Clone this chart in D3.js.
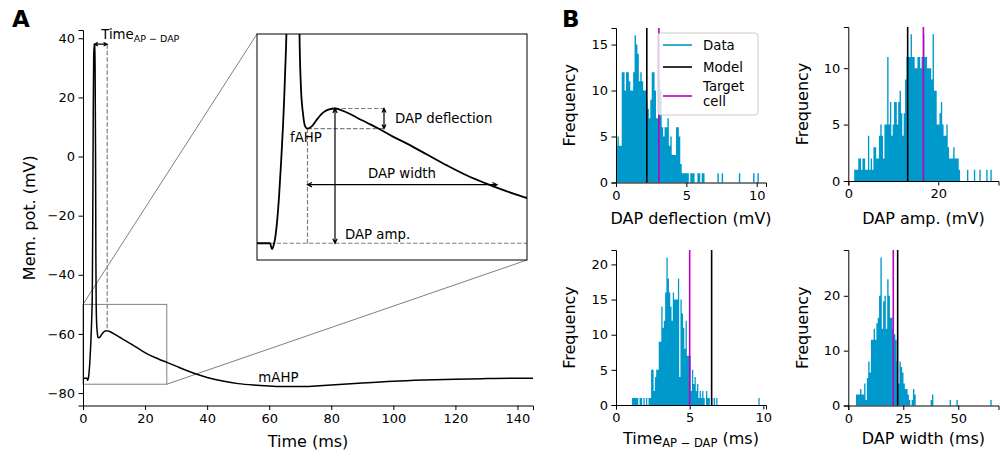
<!DOCTYPE html>
<html><head><meta charset="utf-8">
<script src="https://cdn.jsdelivr.net/npm/d3@7"></script>
<style>
body{margin:0;background:#fff;}
svg text{font-family:"DejaVu Sans",sans-serif;fill:#000;}
</style></head><body>
<svg id="c" width="1001" height="454"></svg>
<script>
// ---------- Panel A data: membrane potential trace ----------
const traceTime = [0,1.0,1.3,1.5,1.65,1.8,2.0,2.2,2.4,2.6,2.8,3.0,3.15,3.3,3.45,3.6,3.75,3.9,4.05,4.15,4.25,4.4,4.6,4.8,5.05,5.5,6.0,6.6,7.2,7.8,8.4,9.2,10,11,12,13.5,15,17,19,21,23,25,27,30,33,36,40,45,50,55,60,65,70,75,80,90,100,110,120,130,140,145];
const traceVolt = [-75.0,-75.0,-75.0,-75.7,-75.3,-74.5,-72.5,-69.5,-65.5,-61,-55,-46,-20,15,34,37.8,37.5,30,0,-35,-50,-56.5,-59.5,-61.0,-61.3,-61.0,-60.2,-59.4,-59.0,-58.9,-59.1,-59.5,-60.0,-60.6,-61.2,-62.2,-63.1,-64.4,-65.7,-66.9,-67.9,-68.8,-69.6,-70.9,-72.2,-73.4,-74.7,-75.9,-76.8,-77.3,-77.6,-77.8,-77.8,-77.6,-77.3,-76.6,-76.0,-75.6,-75.3,-75.1,-75.0,-75.0];
const timeTicks = [0,20,40,60,80,100,120,140];
const voltTicks = [-80,-60,-40,-20,0,20,40];
// characteristic points (ms, mV)
const apPeak = [3.6, 38.0];
const fAHP = [5.05, -61.3];
const dapPeak = [7.8, -58.9];
const dapDeflEnd = 12.7;
const dapWidthEnd = 24.0;
const dapWidthLevel = -68.0;
const restVolt = -75.0;
const zoomWindow = [0, 27, -77, -50];

// ---------- Panel B data: histograms (100 bins each) ----------
const deflRange = [0.0, 10.15];
const deflCounts = [4,5,4,4,12,12,10,12,12,11, 10,10,12,16,15,14,11,12,11,10, 10,9,8,7,9,12,12,10,7,7, 11,10,6,5,6,6,7,4,5,3, 3,3,6,6,5,2,1,1,1,1, 1,0,1,1,1,0,0,1,1,0, 1,1,0,0,0,0,0,0,0,0, 0,1,0,0,1,0,0,0,0,0, 0,0,0,0,0,0,1,0,0,0, 0,0,0,0,0,0,1,0,0,1];
const ampRange = [1.3, 31.9];
const ampCounts = [1,1,1,2,2,1,2,2,1,1, 4,1,2,1,3,3,2,2,4,5, 4,2,5,5,11,5,7,4,5,7, 7,5,7,8,6,4,6,9,11,11, 11,13,11,11,10,10,11,11,10,11, 13,11,11,10,10,10,9,13,8,8, 5,5,6,7,5,4,4,5,3,2, 2,2,3,2,2,2,1,0,0,0, 0,0,1,0,0,0,0,1,0,0, 0,1,0,0,0,0,1,0,0,1];
const tadRange = [1.08, 9.75];
const tadCounts = [1,1,1,1,1,0,1,1,0,1, 0,1,0,1,1,5,5,2,4,5, 5,9,9,14,11,12,16,21,18,16, 14,12,16,15,15,15,18,4,15,13, 11,8,12,7,7,7,2,5,3,4, 2,3,1,2,1,2,1,0,2,1, 1,0,1,0,1,0,1,0,0,0, 0,0,0,0,0,0,0,0,0,0, 0,0,0,0,0,0,0,0,0,0, 0,0,0,0,0,0,0,0,0,1];
const widthRange = [3.5, 65.2];
const widthCounts = [2,2,2,3,2,2,4,1,5,8, 6,12,12,14,12,15,16,20,27,14, 19,20,14,23,20,16,16,14,13,12, 8,4,8,7,6,4,3,3,2,1, 0,1,3,2,0,0,0,0,0,0, 0,0,0,0,0,1,2,0,0,0, 0,0,0,0,0,0,0,0,0,1, 0,0,0,0,1,0,0,0,0,0, 0,0,0,0,0,0,0,0,0,0, 0,0,0,0,0,0,0,0,0,1];
const modelValues = [2.19, 13.2, 6.49, 22.45];
const targetValues = [3.05, 16.7, 5.0, 20.45];
const histXMax = [10.66, 33.4, 10.18, 68.3];
const histYMax = [16.8, 13.65, 22.05, 28.35];
const histXTicks = [[0,5,10],[0,20],[0,5,10],[0,25,50]];
const histYTicks = [[0,5,10,15],[0,5,10],[0,5,10,15,20],[0,10,20]];
const legendLabels = ["Data","Model","Target cell"];

// ---------- colours ----------
const cData = "#0099cc", cModel = "#000000", cTarget = "#bf00bf", cGray = "#808080";

const svg = d3.select("#c");
const fmt = d3.format("d");

function styleAxis(g){
  g.selectAll(".domain").attr("stroke","#000").attr("stroke-width",1);
  g.selectAll(".tick line").attr("stroke","#000").attr("stroke-width",1);
  g.selectAll(".tick text").attr("font-size",13).attr("font-family","DejaVu Sans").attr("fill","#000");
}

// ======== Panel A ========
const A = {x0:83, x1:533, y0:30, y1:405.5};
const xA = d3.scaleLinear().domain([0,145]).range([A.x0,A.x1]);
const yA = d3.scaleLinear().domain([-84.2,42.8]).range([A.y1,A.y0]);
const trace = traceTime.map((t,i)=>[t,traceVolt[i]]);

const defs = svg.append("defs");
defs.append("clipPath").attr("id","clipA")
  .append("rect").attr("x",A.x0).attr("y",A.y0).attr("width",A.x1-A.x0).attr("height",A.y1-A.y0);

const gA = svg.append("g");
// zoom rect & connectors
const ins = {x0:257, x1:527, y0:34, y1:260};
gA.append("rect").attr("x",xA(zoomWindow[0])).attr("y",yA(zoomWindow[3]))
  .attr("width",xA(zoomWindow[1])-xA(zoomWindow[0])).attr("height",yA(zoomWindow[2])-yA(zoomWindow[3]))
  .attr("fill","none").attr("stroke",cGray).attr("stroke-width",1);
gA.append("line").attr("x1",xA(zoomWindow[0])).attr("y1",yA(zoomWindow[3])).attr("x2",ins.x0).attr("y2",ins.y0)
  .attr("stroke",cGray).attr("stroke-width",1);
gA.append("line").attr("x1",xA(zoomWindow[1])).attr("y1",yA(zoomWindow[2])).attr("x2",ins.x1).attr("y2",ins.y1)
  .attr("stroke",cGray).attr("stroke-width",1);

const lineA = d3.line().x(d=>xA(d[0])).y(d=>yA(d[1])).curve(d3.curveMonotoneX);
gA.append("path").datum(trace).attr("d",lineA).attr("fill","none").attr("stroke","#000")
  .attr("stroke-width",1.5).attr("clip-path","url(#clipA)");

// Time AP-DAP annotation
gA.append("line").attr("x1",xA(dapPeak[0])).attr("x2",xA(dapPeak[0]))
  .attr("y1",yA(apPeak[1])).attr("y2",yA(dapPeak[1]))
  .attr("stroke",cGray).attr("stroke-width",1.2).attr("stroke-dasharray","4.5,2");

function arrow(g, xa, ya, xb, yb, head){
  head = head||5;
  const ang = Math.atan2(yb-ya, xb-xa);
  const p = d3.path();
  p.moveTo(xa,ya); p.lineTo(xb,yb);
  const a1 = 0.45;
  [[xa,ya,ang],[xb,yb,ang+Math.PI]].forEach(([x,y,a])=>{
    p.moveTo(x+head*Math.cos(a+a1), y+head*Math.sin(a+a1));
    p.lineTo(x,y);
    p.lineTo(x+head*Math.cos(a-a1), y+head*Math.sin(a-a1));
  });
  g.append("path").attr("d",p.toString()).attr("fill","none").attr("stroke","#000").attr("stroke-width",1.2);
}
arrow(gA, xA(apPeak[0]), yA(apPeak[1]), xA(dapPeak[0]), yA(apPeak[1]), 4);
const tl = gA.append("text").attr("x",xA(dapPeak[0])-6).attr("y",yA(apPeak[1])-5).attr("font-size",13.3);
tl.append("tspan").text("Time");
tl.append("tspan").attr("font-size",9.5).attr("dy",2.5).text("AP − DAP");

gA.append("text").attr("x",xA(56.5)).attr("y",yA(-76.2)).attr("font-size",13.3).text("mAHP");

// axes
const axXA = gA.append("g").attr("transform",`translate(0,${A.y1})`)
  .call(d3.axisBottom(xA).tickValues(timeTicks).tickFormat(fmt).tickSizeOuter(0).tickSize(4.5).tickPadding(3.5));
styleAxis(axXA);
const axYA = gA.append("g").attr("transform",`translate(${A.x0},0)`)
  .call(d3.axisLeft(yA).tickValues(voltTicks).tickFormat(fmt).tickSizeOuter(0).tickSize(4.5).tickPadding(3.5));
styleAxis(axYA);
gA.append("text").attr("x",(A.x0+A.x1)/2).attr("y",447).attr("text-anchor","middle").attr("font-size",16).text("Time (ms)");
gA.append("text").attr("transform",`translate(35,${(A.y0+A.y1)/2}) rotate(-90)`).attr("text-anchor","middle").attr("font-size",16).text("Mem. pot. (mV)");

// ---- Inset ----
const xI = d3.scaleLinear().domain([zoomWindow[0],zoomWindow[1]]).range([ins.x0,ins.x1]);
const yI = d3.scaleLinear().domain([zoomWindow[2],zoomWindow[3]]).range([ins.y1,ins.y0]);
defs.append("clipPath").attr("id","clipI")
  .append("rect").attr("x",ins.x0).attr("y",ins.y0).attr("width",ins.x1-ins.x0).attr("height",ins.y1-ins.y0);
const gI = svg.append("g");
gI.append("rect").attr("x",ins.x0).attr("y",ins.y0).attr("width",ins.x1-ins.x0).attr("height",ins.y1-ins.y0)
  .attr("fill","#fff").attr("stroke","none");
const lineI = d3.line().x(d=>xI(d[0])).y(d=>yI(d[1])).curve(d3.curveMonotoneX);
const gIc = gI.append("g").attr("clip-path","url(#clipI)");
const dash = (x1,y1,x2,y2)=>gIc.append("line").attr("x1",x1).attr("y1",y1).attr("x2",x2).attr("y2",y2)
  .attr("stroke",cGray).attr("stroke-width",1.2).attr("stroke-dasharray","4.5,2");
dash(xI(zoomWindow[0]), yI(restVolt), xI(zoomWindow[1]), yI(restVolt));
dash(xI(fAHP[0]), yI(fAHP[1]), xI(fAHP[0]), yI(restVolt));
dash(xI(dapPeak[0]), yI(dapPeak[1]), xI(dapDeflEnd), yI(dapPeak[1]));
dash(xI(fAHP[0]), yI(fAHP[1]), xI(dapDeflEnd), yI(fAHP[1]));
gIc.append("path").datum(trace).attr("d",lineI).attr("fill","none").attr("stroke","#000").attr("stroke-width",1.8);
arrow(gI, xI(dapDeflEnd), yI(dapPeak[1]), xI(dapDeflEnd), yI(fAHP[1]), 4.5);
arrow(gI, xI(dapPeak[0]), yI(dapPeak[1]), xI(dapPeak[0]), yI(restVolt), 5);
arrow(gI, xI(fAHP[0]), yI(dapWidthLevel), xI(dapWidthEnd), yI(dapWidthLevel), 5);
gI.append("text").attr("x",xI(13.8)).attr("y",yI(-60.6)).attr("font-size",13.3).text("DAP deflection");
gI.append("text").attr("x",xI(3.3)).attr("y",yI(-62.9)).attr("font-size",13.3).text("fAHP");
gI.append("text").attr("x",xI(14.5)).attr("y",yI(-67.2)).attr("text-anchor","middle").attr("font-size",13.3).text("DAP width");
gI.append("text").attr("x",xI(8.8)).attr("y",yI(-74.5)).attr("font-size",13.3).text("DAP amp.");
gI.append("rect").attr("x",ins.x0).attr("y",ins.y0).attr("width",ins.x1-ins.x0).attr("height",ins.y1-ins.y0)
  .attr("fill","none").attr("stroke","#000").attr("stroke-width",1);

// panel letters
svg.append("text").attr("x",12).attr("y",27).attr("font-size",23).attr("font-weight","bold").text("A");
svg.append("text").attr("x",562).attr("y",27).attr("font-size",23).attr("font-weight","bold").text("B");

// ======== Panel B ========
const hists = [
  {counts:deflCounts, range:deflRange, x0:616, x1:766, y0:28, y1:182.5, label:"DAP deflection (mV)", ly:224, fy:575},
  {counts:ampCounts, range:ampRange, x0:848.3, x1:998.5, y0:27, y1:181, label:"DAP amp. (mV)", ly:224, fy:808},
  {counts:tadCounts, range:tadRange, x0:616, x1:766, y0:250, y1:405, label:null, ly:444, fy:575},
  {counts:widthCounts, range:widthRange, x0:848.3, x1:998.5, y0:250, y1:405.5, label:"DAP width (ms)", ly:444, fy:808}
];
hists.forEach((h,k)=>{
  const g = svg.append("g");
  const xs = d3.scaleLinear().domain([0,histXMax[k]]).range([h.x0,h.x1]);
  const ys = d3.scaleLinear().domain([0,histYMax[k]]).range([h.y1,h.y0]);
  const n = h.counts.length, w = (h.range[1]-h.range[0])/n;
  const steps = h.counts.map((c,i)=>[h.range[0]+i*w, c]);
  steps.push([h.range[1], h.counts[n-1]]);
  const area = d3.area().x(d=>xs(d[0])).y0(ys(0)).y1(d=>ys(d[1])).curve(d3.curveStepAfter);
  g.append("path").datum(steps).attr("d",area).attr("fill",cData).attr("stroke","none");
  g.append("line").attr("x1",xs(modelValues[k])).attr("x2",xs(modelValues[k])).attr("y1",h.y0).attr("y2",h.y1)
    .attr("stroke",cModel).attr("stroke-width",1.6);
  g.append("line").attr("x1",xs(targetValues[k])).attr("x2",xs(targetValues[k])).attr("y1",h.y0).attr("y2",h.y1)
    .attr("stroke",cTarget).attr("stroke-width",1.6);
  const ax = g.append("g").attr("transform",`translate(0,${h.y1})`)
    .call(d3.axisBottom(xs).tickValues(histXTicks[k]).tickFormat(fmt).tickSizeOuter(0).tickSize(4.5).tickPadding(3.5));
  styleAxis(ax);
  const ay = g.append("g").attr("transform",`translate(${h.x0},0)`)
    .call(d3.axisLeft(ys).tickValues(histYTicks[k]).tickFormat(fmt).tickSizeOuter(0).tickSize(4.5).tickPadding(3.5));
  styleAxis(ay);
  const xl = g.append("text").attr("x",(h.x0+h.x1)/2).attr("y",h.ly).attr("text-anchor","middle").attr("font-size",16);
  if(h.label){ xl.text(h.label); }
  else {
    xl.append("tspan").text("Time");
    xl.append("tspan").attr("font-size",11.5).attr("dy",3).text("AP − DAP");
    xl.append("tspan").attr("dy",-3).text(" (ms)");
  }
  g.append("text").attr("transform",`translate(${h.fy},${(h.y0+h.y1)/2}) rotate(-90)`)
    .attr("text-anchor","middle").attr("font-size",16).text("Frequency");
  if(k===0){
    const lg = g.append("g");
    lg.append("rect").attr("x",658).attr("y",33).attr("width",100).attr("height",82).attr("rx",3)
      .attr("fill","#fff").attr("fill-opacity",0.8).attr("stroke","#cccccc").attr("stroke-width",1);
    const cols = [cData,cModel,cTarget], ly = [45,67,96];
    cols.forEach((c,i)=>lg.append("line").attr("x1",663).attr("x2",692).attr("y1",ly[i]).attr("y2",ly[i])
      .attr("stroke",c).attr("stroke-width",1.6));
    lg.append("text").attr("x",703).attr("y",50).attr("font-size",13.3).text(legendLabels[0]);
    lg.append("text").attr("x",703).attr("y",72).attr("font-size",13.3).text(legendLabels[1]);
    const t3 = lg.append("text").attr("x",703).attr("y",91).attr("font-size",13.3);
    t3.append("tspan").text(legendLabels[2].split(" ")[0]);
    t3.append("tspan").attr("x",703).attr("dy",15).text(legendLabels[2].split(" ")[1]);
  }
});
</script>
</body></html>
